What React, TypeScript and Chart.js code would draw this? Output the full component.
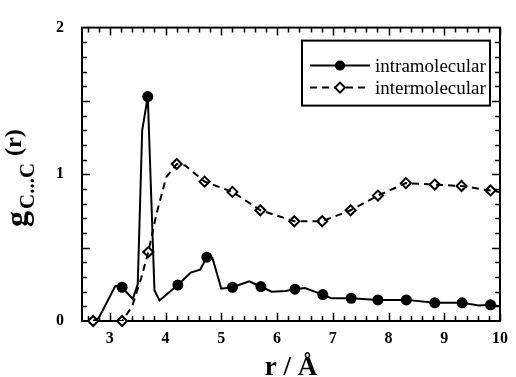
import React, { useEffect, useRef } from 'react';
import { Chart, registerables } from 'chart.js';

Chart.register(...registerables);

// ---- data ----
const xTickValues = [3, 4, 5, 6, 7, 8, 9, 10];
const yTickValues = [0, 1, 2];
const seriesNames = ['intramolecular', 'intermolecular'];

// intramolecular g(r): full curve
const intraLineR = [2.7, 2.8, 3.1, 3.22, 3.41, 3.5, 3.58, 3.68, 3.8, 3.89, 4.22, 4.45, 4.62, 4.74, 4.84, 5.0, 5.2, 5.5, 5.71, 5.9, 6.15, 6.32, 6.5, 6.82, 6.97, 7.33, 7.81, 8.32, 8.83, 9.32, 9.62, 9.83, 10.0];
const intraLineG = [0.0, 0.02, 0.24, 0.23, 0.15, 0.25, 1.3, 1.53, 0.21, 0.14, 0.245, 0.33, 0.35, 0.435, 0.43, 0.22, 0.23, 0.27, 0.235, 0.2, 0.205, 0.217, 0.225, 0.18, 0.155, 0.155, 0.144, 0.144, 0.124, 0.124, 0.105, 0.11, 0.1];
// intramolecular markers
const intraMarkR = [3.22, 3.68, 4.22, 4.74, 5.2, 5.71, 6.32, 6.82, 7.33, 7.81, 8.32, 8.83, 9.32, 9.83];
const intraMarkG = [0.23, 1.53, 0.245, 0.435, 0.23, 0.235, 0.217, 0.18, 0.155, 0.144, 0.144, 0.124, 0.124, 0.11];

// intermolecular g(r): full curve
const interLineR = [2.7, 3.22, 3.4, 3.56, 3.69, 3.83, 4.01, 4.2, 4.35, 4.7, 5.2, 5.7, 6.31, 6.81, 7.32, 7.81, 8.31, 8.83, 9.31, 9.83, 10.0];
const interLineG = [0.0, 0.0, 0.1, 0.29, 0.47, 0.72, 0.98, 1.07, 1.06, 0.95, 0.88, 0.755, 0.68, 0.68, 0.755, 0.855, 0.94, 0.93, 0.92, 0.89, 0.88];
// intermolecular markers
const interMarkR = [2.7, 3.22, 3.69, 4.2, 4.7, 5.2, 5.7, 6.31, 6.81, 7.32, 7.81, 8.31, 8.83, 9.31, 9.83];
const interMarkG = [0.0, 0.0, 0.47, 1.07, 0.95, 0.88, 0.755, 0.68, 0.68, 0.755, 0.855, 0.94, 0.93, 0.92, 0.89];

const pairs = (r: number[], g: number[]) => r.map((v, i) => ({ x: v, y: g[i] }));

const SERIF = '"Liberation Serif", "Times New Roman", serif';

const frameAndTicks = {
  id: 'frameAndTicks',
  beforeDatasetsDraw(chart: any) {
    const { ctx, chartArea: a, scales } = chart;
    const xs = scales.x;
    const ys = scales.y;
    ctx.save();
    ctx.strokeStyle = '#000';
    ctx.lineWidth = 1.5;
    ctx.beginPath();
    // x ticks every 0.2, major at integers
    for (let k = 13; k <= 50; k++) {
      const v = k * 0.2;
      const px = Math.round(xs.getPixelForValue(v)) + 0.5;
      const major = k % 5 === 0;
      const len = major ? 8 : 5;
      ctx.moveTo(px, a.bottom);
      ctx.lineTo(px, a.bottom - len);
      ctx.moveTo(px, a.top);
      ctx.lineTo(px, a.top + len);
    }
    // y ticks every 0.1, major every 0.5
    for (let k = 1; k < 20; k++) {
      const v = k * 0.1;
      const py = Math.round(ys.getPixelForValue(v)) + 0.5;
      const major = k % 5 === 0;
      const len = major ? 8 : 5;
      ctx.moveTo(a.left, py);
      ctx.lineTo(a.left + len, py);
      ctx.moveTo(a.right, py);
      ctx.lineTo(a.right - len, py);
    }
    ctx.stroke();
    ctx.lineWidth = 2;
    ctx.strokeRect(a.left, a.top, a.right - a.left, a.bottom - a.top);
    ctx.restore();
  },
};

const legendAndYTitle = {
  id: 'legendAndYTitle',
  afterDraw(chart: any) {
    const { ctx, chartArea: a } = chart;
    ctx.save();
    // ---- legend ----
    const bx = a.right - 198;
    const by = a.top + 13;
    const bw = 188;
    const bh = 65;
    ctx.fillStyle = '#fff';
    ctx.fillRect(bx, by, bw, bh);
    ctx.strokeStyle = '#000';
    ctx.lineWidth = 2;
    ctx.strokeRect(bx, by, bw, bh);
    const lx0 = bx + 8;
    const lx1 = bx + 68;
    const mx = bx + 38;
    const y1 = by + 25;
    const y2 = by + 47;
    // entry 1
    ctx.lineWidth = 2;
    ctx.setLineDash([]);
    ctx.beginPath();
    ctx.moveTo(lx0, y1);
    ctx.lineTo(lx1, y1);
    ctx.stroke();
    ctx.fillStyle = '#000';
    ctx.beginPath();
    ctx.arc(mx, y1, 5, 0, Math.PI * 2);
    ctx.fill();
    // entry 2
    ctx.setLineDash([7, 5]);
    ctx.beginPath();
    ctx.moveTo(lx0, y2);
    ctx.lineTo(lx1, y2);
    ctx.stroke();
    ctx.setLineDash([]);
    ctx.fillStyle = '#fff';
    ctx.beginPath();
    ctx.moveTo(mx, y2 - 5);
    ctx.lineTo(mx + 5, y2);
    ctx.lineTo(mx, y2 + 5);
    ctx.lineTo(mx - 5, y2);
    ctx.closePath();
    ctx.fill();
    ctx.stroke();
    ctx.fillStyle = '#000';
    ctx.font = `19px ${SERIF}`;
    ctx.textBaseline = 'middle';
    ctx.textAlign = 'left';
    ctx.fillText(seriesNames[0], lx1 + 5, y1 + 1);
    ctx.fillText(seriesNames[1], lx1 + 5, y2 + 1);

    // ---- y-axis title: g_{C...C}(r) ----
    ctx.translate(27, 227);
    ctx.rotate(-Math.PI / 2);
    ctx.textBaseline = 'alphabetic';
    ctx.font = `bold 32px ${SERIF}`;
    ctx.fillText('g', 0, 0);
    const wg = ctx.measureText('g').width;
    ctx.font = `bold 21px ${SERIF}`;
    const sub = 'C...C';
    const subX = wg + 2;
    ctx.fillText(sub, subX, 7);
    const ws = ctx.measureText(sub).width;
    ctx.font = `bold 24px ${SERIF}`;
    ctx.fillText('(r)', subX + ws + 7, -6);
    ctx.restore();
  },
};

export default function App() {
  const canvasRef = useRef<HTMLCanvasElement | null>(null);

  useEffect(() => {
    const canvas = canvasRef.current;
    if (!canvas) return;
    const chart = new Chart(canvas, {
      type: 'line',
      data: {
        datasets: [
          {
            label: seriesNames[1],
            data: pairs(interLineR, interLineG),
            borderColor: '#000',
            borderWidth: 2,
            borderDash: [7, 5],
            pointRadius: 0,
            fill: false,
            tension: 0,
          },
          {
            label: seriesNames[0],
            data: pairs(intraLineR, intraLineG),
            borderColor: '#000',
            borderWidth: 2,
            pointRadius: 0,
            fill: false,
            tension: 0,
          },
          {
            label: seriesNames[0] + ' markers',
            data: pairs(intraMarkR, intraMarkG),
            showLine: false,
            pointRadius: 5.5,
            pointStyle: 'circle',
            pointBackgroundColor: '#000',
            pointBorderColor: '#000',
            pointBorderWidth: 0,
            clip: false,
          },
          {
            label: seriesNames[1] + ' markers',
            data: pairs(interMarkR, interMarkG),
            showLine: false,
            pointRadius: 5,
            pointStyle: 'rectRot',
            pointBackgroundColor: '#fff',
            pointBorderColor: '#000',
            pointBorderWidth: 2,
            clip: false,
          },
        ],
      },
      options: {
        responsive: false,
        animation: false,
        events: [],
        layout: { padding: { left: 0, top: 20, right: 13, bottom: 0 } },
        plugins: {
          legend: { display: false },
          tooltip: { enabled: false },
        },
        scales: {
          x: {
            type: 'linear',
            min: 2.5,
            max: 10,
            afterBuildTicks: (s: any) => {
              s.ticks = xTickValues.map((v) => ({ value: v }));
            },
            afterFit: (s: any) => {
              s.height = 56;
            },
            grid: { display: false, drawTicks: false },
            border: { display: false },
            ticks: {
              autoSkip: false,
              maxRotation: 0,
              padding: 8,
              color: '#000',
              font: { family: SERIF, size: 16, weight: 'bold' },
            },
            title: {
              display: true,
              text: 'r / Å',
              color: '#000',
              font: { family: SERIF, size: 27, weight: 'bold', lineHeight: 0.8 },
              padding: { top: 0, bottom: -2 },
            },
          },
          y: {
            type: 'linear',
            min: 0,
            max: 2,
            afterBuildTicks: (s: any) => {
              s.ticks = yTickValues.map((v) => ({ value: v }));
            },
            afterFit: (s: any) => {
              s.width = 82;
            },
            grid: { display: false, drawTicks: false },
            border: { display: false },
            ticks: {
              padding: 18,
              color: '#000',
              font: { family: SERIF, size: 16, weight: 'bold' },
            },
          },
        },
      },
      plugins: [frameAndTicks, legendAndYTitle],
    } as any);
    return () => chart.destroy();
  }, []);

  return (
    <div style={{ position: 'absolute', left: 0, top: 0, width: 516, height: 377, background: '#fff' }}>
      <canvas ref={canvasRef} width={516} height={377} style={{ display: 'block' }} />
    </div>
  );
}
